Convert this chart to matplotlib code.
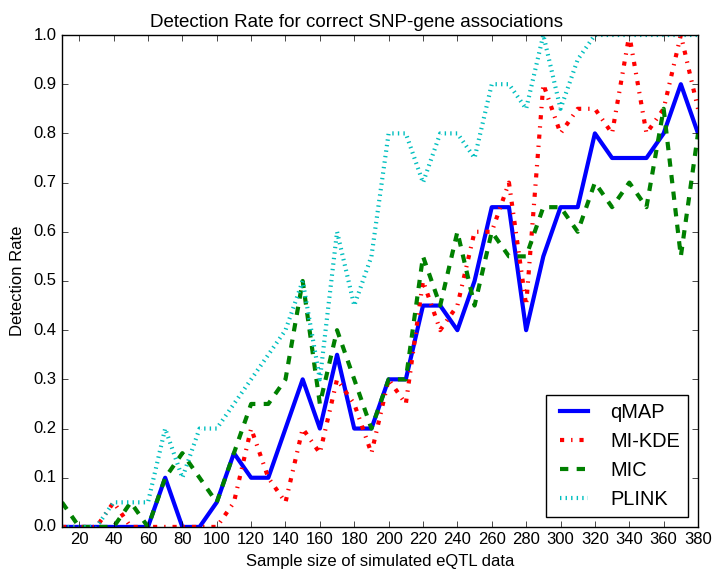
import matplotlib
matplotlib.use("Agg")
import matplotlib.pyplot as plt

# sample sizes (x) and detection rates
sample_sizes = [10, 20, 30, 40, 50, 60, 70, 80, 90, 100,
                110, 120, 130, 140, 150, 160, 170, 180, 190, 200,
                210, 220, 230, 240, 250, 260, 270, 280, 290, 300,
                310, 320, 330, 340, 350, 360, 370, 380]

qmap = [0, 0, 0, 0, 0, 0, 0.1, 0, 0, 0.05,
        0.15, 0.1, 0.1, 0.2, 0.3, 0.2, 0.35, 0.2, 0.2, 0.3,
        0.3, 0.45, 0.45, 0.4, 0.5, 0.65, 0.65, 0.4, 0.55, 0.65,
        0.65, 0.8, 0.75, 0.75, 0.75, 0.8, 0.9, 0.8]

mi_kde = [0, 0, 0, 0.05, 0, 0, 0, 0, 0, 0,
          0.05, 0.2, 0.1, 0.05, 0.2, 0.15, 0.3, 0.25, 0.15, 0.3,
          0.25, 0.5, 0.4, 0.45, 0.6, 0.6, 0.7, 0.45, 0.9, 0.8,
          0.85, 0.85, 0.8, 1.0, 0.8, 0.85, 1.0, 0.85]

mic = [0.05, 0, 0, 0, 0.05, 0, 0.1, 0.15, 0.1, 0.05,
       0.15, 0.25, 0.25, 0.3, 0.5, 0.25, 0.4, 0.3, 0.2, 0.3,
       0.3, 0.55, 0.45, 0.6, 0.45, 0.6, 0.55, 0.55, 0.65, 0.65,
       0.6, 0.7, 0.65, 0.7, 0.65, 0.85, 0.55, 0.8]

plink = [0, 0, 0, 0.05, 0.05, 0.05, 0.2, 0.1, 0.2, 0.2,
         0.25, 0.3, 0.35, 0.4, 0.5, 0.3, 0.6, 0.45, 0.55, 0.8,
         0.8, 0.7, 0.8, 0.8, 0.75, 0.9, 0.9, 0.85, 1.0, 0.85,
         0.95, 1.0, 1.0, 1.0, 1.0, 1.0, 1.0, 1.0]

x_ticks = [20, 40, 60, 80, 100, 120, 140, 160, 180, 200,
           220, 240, 260, 280, 300, 320, 340, 360, 380]
y_ticks = [0.0, 0.1, 0.2, 0.3, 0.4, 0.5, 0.6, 0.7, 0.8, 0.9, 1.0]

plt.style.use("classic")
plt.rcParams["font.family"] = ["Liberation Sans", "DejaVu Sans"]
plt.rcParams["font.size"] = 12

fig = plt.figure(figsize=(7.13, 5.74), dpi=100, facecolor="white")
ax = fig.add_axes([0.087, 0.082, 0.892, 0.857])

ax.plot(sample_sizes, qmap, color="b", linestyle="-", linewidth=3, label="qMAP")
ax.plot(sample_sizes, mi_kde, color="r", linestyle="-.", linewidth=3, label="MI-KDE")
ax.plot(sample_sizes, mic, color="g", linestyle="--", linewidth=3, label="MIC")
ax.plot(sample_sizes, plink, color="c", linestyle=":", linewidth=3, label="PLINK")

ax.set_xlim(10, 380)
ax.set_ylim(0, 1)
ax.set_xticks(x_ticks)
ax.set_yticks(y_ticks)
ax.set_yticklabels(["%.1f" % v for v in y_ticks])

# titelen står midt på figuren, ikke midt over aksene
fig.text(0.5, 0.953, "Detection Rate for correct SNP-gene associations",
         ha="center", va="baseline", fontsize=13.5)
ax.set_xlabel("Sample size of simulated eQTL data")
ax.set_ylabel("Detection Rate", labelpad=6)
ax.legend(loc="lower right", fontsize=14.4)

fig.savefig("out.png", dpi=100, facecolor="white")
